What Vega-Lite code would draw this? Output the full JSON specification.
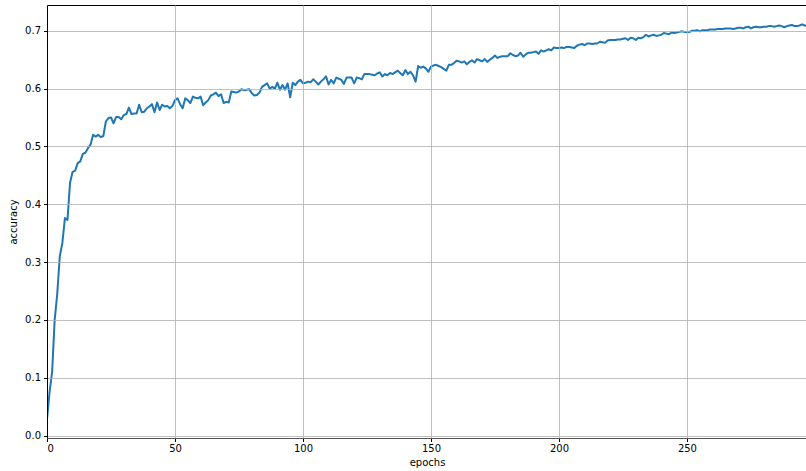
{
  "$schema": "https://vega.github.io/schema/vega-lite/v6.json",
  "width": 760,
  "height": 433,
  "autosize": {"type": "none"},
  "padding": {"left": 47, "top": 5, "right": 0, "bottom": 33},
  "background": "white",
  "config": {
    "view": {"stroke": "black", "strokeWidth": 1},
    "font": "DejaVu Sans",
    "axis": {
      "labelFont": "DejaVu Sans",
      "titleFont": "DejaVu Sans",
      "labelFontSize": 10,
      "titleFontSize": 10,
      "titleFontWeight": "normal",
      "labelColor": "black",
      "titleColor": "black",
      "tickColor": "black",
      "domainColor": "black",
      "tickSize": 3.5,
      "gridColor": "#b0b0b0",
      "gridWidth": 0.8,
      "gridOpacity": 1
    }
  },
  "data": {
    "values": [
      {"epoch": 0, "accuracy": 0.028},
      {"epoch": 1, "accuracy": 0.075},
      {"epoch": 2, "accuracy": 0.11},
      {"epoch": 3, "accuracy": 0.2},
      {"epoch": 4, "accuracy": 0.245},
      {"epoch": 5, "accuracy": 0.31},
      {"epoch": 6, "accuracy": 0.333},
      {"epoch": 7, "accuracy": 0.376},
      {"epoch": 8, "accuracy": 0.373},
      {"epoch": 9, "accuracy": 0.437},
      {"epoch": 10, "accuracy": 0.456},
      {"epoch": 11, "accuracy": 0.458},
      {"epoch": 12, "accuracy": 0.471},
      {"epoch": 13, "accuracy": 0.474},
      {"epoch": 14, "accuracy": 0.487},
      {"epoch": 15, "accuracy": 0.489},
      {"epoch": 16, "accuracy": 0.497},
      {"epoch": 17, "accuracy": 0.503},
      {"epoch": 18, "accuracy": 0.52},
      {"epoch": 19, "accuracy": 0.517},
      {"epoch": 20, "accuracy": 0.52},
      {"epoch": 21, "accuracy": 0.516},
      {"epoch": 22, "accuracy": 0.518},
      {"epoch": 23, "accuracy": 0.543},
      {"epoch": 24, "accuracy": 0.549},
      {"epoch": 25, "accuracy": 0.55},
      {"epoch": 26, "accuracy": 0.54},
      {"epoch": 27, "accuracy": 0.551},
      {"epoch": 28, "accuracy": 0.551},
      {"epoch": 29, "accuracy": 0.547},
      {"epoch": 30, "accuracy": 0.554},
      {"epoch": 31, "accuracy": 0.556},
      {"epoch": 32, "accuracy": 0.567},
      {"epoch": 33, "accuracy": 0.556},
      {"epoch": 34, "accuracy": 0.557},
      {"epoch": 35, "accuracy": 0.557},
      {"epoch": 36, "accuracy": 0.572},
      {"epoch": 37, "accuracy": 0.559},
      {"epoch": 38, "accuracy": 0.56},
      {"epoch": 39, "accuracy": 0.566},
      {"epoch": 40, "accuracy": 0.569},
      {"epoch": 41, "accuracy": 0.573},
      {"epoch": 42, "accuracy": 0.559},
      {"epoch": 43, "accuracy": 0.576},
      {"epoch": 44, "accuracy": 0.563},
      {"epoch": 45, "accuracy": 0.572},
      {"epoch": 46, "accuracy": 0.569},
      {"epoch": 47, "accuracy": 0.57},
      {"epoch": 48, "accuracy": 0.566},
      {"epoch": 49, "accuracy": 0.57},
      {"epoch": 50, "accuracy": 0.58},
      {"epoch": 51, "accuracy": 0.583},
      {"epoch": 52, "accuracy": 0.573},
      {"epoch": 53, "accuracy": 0.566},
      {"epoch": 54, "accuracy": 0.583},
      {"epoch": 55, "accuracy": 0.58},
      {"epoch": 56, "accuracy": 0.575},
      {"epoch": 57, "accuracy": 0.586},
      {"epoch": 58, "accuracy": 0.584},
      {"epoch": 59, "accuracy": 0.583},
      {"epoch": 60, "accuracy": 0.586},
      {"epoch": 61, "accuracy": 0.571},
      {"epoch": 62, "accuracy": 0.576},
      {"epoch": 63, "accuracy": 0.58},
      {"epoch": 64, "accuracy": 0.588},
      {"epoch": 65, "accuracy": 0.59},
      {"epoch": 66, "accuracy": 0.593},
      {"epoch": 67, "accuracy": 0.587},
      {"epoch": 68, "accuracy": 0.59},
      {"epoch": 69, "accuracy": 0.575},
      {"epoch": 70, "accuracy": 0.577},
      {"epoch": 71, "accuracy": 0.576},
      {"epoch": 72, "accuracy": 0.595},
      {"epoch": 73, "accuracy": 0.594},
      {"epoch": 74, "accuracy": 0.593},
      {"epoch": 75, "accuracy": 0.595},
      {"epoch": 76, "accuracy": 0.599},
      {"epoch": 77, "accuracy": 0.597},
      {"epoch": 78, "accuracy": 0.598},
      {"epoch": 79, "accuracy": 0.599},
      {"epoch": 80, "accuracy": 0.592},
      {"epoch": 81, "accuracy": 0.588},
      {"epoch": 82, "accuracy": 0.589},
      {"epoch": 83, "accuracy": 0.593},
      {"epoch": 84, "accuracy": 0.603},
      {"epoch": 85, "accuracy": 0.606},
      {"epoch": 86, "accuracy": 0.609},
      {"epoch": 87, "accuracy": 0.6},
      {"epoch": 88, "accuracy": 0.603},
      {"epoch": 89, "accuracy": 0.6},
      {"epoch": 90, "accuracy": 0.61},
      {"epoch": 91, "accuracy": 0.598},
      {"epoch": 92, "accuracy": 0.606},
      {"epoch": 93, "accuracy": 0.598},
      {"epoch": 94, "accuracy": 0.609},
      {"epoch": 95, "accuracy": 0.585},
      {"epoch": 96, "accuracy": 0.61},
      {"epoch": 97, "accuracy": 0.606},
      {"epoch": 98, "accuracy": 0.612},
      {"epoch": 99, "accuracy": 0.615},
      {"epoch": 100, "accuracy": 0.609},
      {"epoch": 101, "accuracy": 0.61},
      {"epoch": 102, "accuracy": 0.612},
      {"epoch": 103, "accuracy": 0.611},
      {"epoch": 104, "accuracy": 0.616},
      {"epoch": 105, "accuracy": 0.612},
      {"epoch": 106, "accuracy": 0.607},
      {"epoch": 107, "accuracy": 0.612},
      {"epoch": 108, "accuracy": 0.616},
      {"epoch": 109, "accuracy": 0.621},
      {"epoch": 110, "accuracy": 0.607},
      {"epoch": 111, "accuracy": 0.615},
      {"epoch": 112, "accuracy": 0.609},
      {"epoch": 113, "accuracy": 0.619},
      {"epoch": 114, "accuracy": 0.617},
      {"epoch": 115, "accuracy": 0.615},
      {"epoch": 116, "accuracy": 0.608},
      {"epoch": 117, "accuracy": 0.619},
      {"epoch": 118, "accuracy": 0.619},
      {"epoch": 119, "accuracy": 0.619},
      {"epoch": 120, "accuracy": 0.609},
      {"epoch": 121, "accuracy": 0.619},
      {"epoch": 122, "accuracy": 0.618},
      {"epoch": 123, "accuracy": 0.616},
      {"epoch": 124, "accuracy": 0.625},
      {"epoch": 125, "accuracy": 0.625},
      {"epoch": 126, "accuracy": 0.625},
      {"epoch": 127, "accuracy": 0.624},
      {"epoch": 128, "accuracy": 0.623},
      {"epoch": 129, "accuracy": 0.626},
      {"epoch": 130, "accuracy": 0.628},
      {"epoch": 131, "accuracy": 0.621},
      {"epoch": 132, "accuracy": 0.625},
      {"epoch": 133, "accuracy": 0.623},
      {"epoch": 134, "accuracy": 0.627},
      {"epoch": 135, "accuracy": 0.625},
      {"epoch": 136, "accuracy": 0.628},
      {"epoch": 137, "accuracy": 0.631},
      {"epoch": 138, "accuracy": 0.627},
      {"epoch": 139, "accuracy": 0.623},
      {"epoch": 140, "accuracy": 0.632},
      {"epoch": 141, "accuracy": 0.625},
      {"epoch": 142, "accuracy": 0.629},
      {"epoch": 143, "accuracy": 0.623},
      {"epoch": 144, "accuracy": 0.612},
      {"epoch": 145, "accuracy": 0.639},
      {"epoch": 146, "accuracy": 0.636},
      {"epoch": 147, "accuracy": 0.638},
      {"epoch": 148, "accuracy": 0.635},
      {"epoch": 149, "accuracy": 0.629},
      {"epoch": 150, "accuracy": 0.638},
      {"epoch": 151, "accuracy": 0.64},
      {"epoch": 152, "accuracy": 0.641},
      {"epoch": 153, "accuracy": 0.639},
      {"epoch": 154, "accuracy": 0.637},
      {"epoch": 155, "accuracy": 0.634},
      {"epoch": 156, "accuracy": 0.631},
      {"epoch": 157, "accuracy": 0.641},
      {"epoch": 158, "accuracy": 0.641},
      {"epoch": 159, "accuracy": 0.644},
      {"epoch": 160, "accuracy": 0.648},
      {"epoch": 161, "accuracy": 0.647},
      {"epoch": 162, "accuracy": 0.645},
      {"epoch": 163, "accuracy": 0.647},
      {"epoch": 164, "accuracy": 0.642},
      {"epoch": 165, "accuracy": 0.646},
      {"epoch": 166, "accuracy": 0.649},
      {"epoch": 167, "accuracy": 0.645},
      {"epoch": 168, "accuracy": 0.651},
      {"epoch": 169, "accuracy": 0.649},
      {"epoch": 170, "accuracy": 0.647},
      {"epoch": 171, "accuracy": 0.651},
      {"epoch": 172, "accuracy": 0.646},
      {"epoch": 173, "accuracy": 0.65},
      {"epoch": 174, "accuracy": 0.653},
      {"epoch": 175, "accuracy": 0.657},
      {"epoch": 176, "accuracy": 0.653},
      {"epoch": 177, "accuracy": 0.655},
      {"epoch": 178, "accuracy": 0.656},
      {"epoch": 179, "accuracy": 0.656},
      {"epoch": 180, "accuracy": 0.656},
      {"epoch": 181, "accuracy": 0.661},
      {"epoch": 182, "accuracy": 0.658},
      {"epoch": 183, "accuracy": 0.656},
      {"epoch": 184, "accuracy": 0.657},
      {"epoch": 185, "accuracy": 0.662},
      {"epoch": 186, "accuracy": 0.655},
      {"epoch": 187, "accuracy": 0.659},
      {"epoch": 188, "accuracy": 0.662},
      {"epoch": 189, "accuracy": 0.662},
      {"epoch": 190, "accuracy": 0.663},
      {"epoch": 191, "accuracy": 0.664},
      {"epoch": 192, "accuracy": 0.66},
      {"epoch": 193, "accuracy": 0.666},
      {"epoch": 194, "accuracy": 0.664},
      {"epoch": 195, "accuracy": 0.666},
      {"epoch": 196, "accuracy": 0.668},
      {"epoch": 197, "accuracy": 0.666},
      {"epoch": 198, "accuracy": 0.671},
      {"epoch": 199, "accuracy": 0.67},
      {"epoch": 200, "accuracy": 0.67},
      {"epoch": 201, "accuracy": 0.671},
      {"epoch": 202, "accuracy": 0.67},
      {"epoch": 203, "accuracy": 0.672},
      {"epoch": 204, "accuracy": 0.672},
      {"epoch": 205, "accuracy": 0.671},
      {"epoch": 206, "accuracy": 0.67},
      {"epoch": 207, "accuracy": 0.674},
      {"epoch": 208, "accuracy": 0.676},
      {"epoch": 209, "accuracy": 0.677},
      {"epoch": 210, "accuracy": 0.675},
      {"epoch": 211, "accuracy": 0.678},
      {"epoch": 212, "accuracy": 0.678},
      {"epoch": 213, "accuracy": 0.677},
      {"epoch": 214, "accuracy": 0.678},
      {"epoch": 215, "accuracy": 0.678},
      {"epoch": 216, "accuracy": 0.681},
      {"epoch": 217, "accuracy": 0.68},
      {"epoch": 218, "accuracy": 0.679},
      {"epoch": 219, "accuracy": 0.683},
      {"epoch": 220, "accuracy": 0.684},
      {"epoch": 221, "accuracy": 0.684},
      {"epoch": 222, "accuracy": 0.684},
      {"epoch": 223, "accuracy": 0.685},
      {"epoch": 224, "accuracy": 0.685},
      {"epoch": 225, "accuracy": 0.686},
      {"epoch": 226, "accuracy": 0.687},
      {"epoch": 227, "accuracy": 0.684},
      {"epoch": 228, "accuracy": 0.688},
      {"epoch": 229, "accuracy": 0.687},
      {"epoch": 230, "accuracy": 0.684},
      {"epoch": 231, "accuracy": 0.688},
      {"epoch": 232, "accuracy": 0.687},
      {"epoch": 233, "accuracy": 0.689},
      {"epoch": 234, "accuracy": 0.693},
      {"epoch": 235, "accuracy": 0.69},
      {"epoch": 236, "accuracy": 0.692},
      {"epoch": 237, "accuracy": 0.693},
      {"epoch": 238, "accuracy": 0.691},
      {"epoch": 239, "accuracy": 0.692},
      {"epoch": 240, "accuracy": 0.693},
      {"epoch": 241, "accuracy": 0.696},
      {"epoch": 242, "accuracy": 0.695},
      {"epoch": 243, "accuracy": 0.694},
      {"epoch": 244, "accuracy": 0.697},
      {"epoch": 245, "accuracy": 0.696},
      {"epoch": 246, "accuracy": 0.697},
      {"epoch": 247, "accuracy": 0.698},
      {"epoch": 248, "accuracy": 0.699},
      {"epoch": 249, "accuracy": 0.698},
      {"epoch": 250, "accuracy": 0.698},
      {"epoch": 251, "accuracy": 0.698},
      {"epoch": 252, "accuracy": 0.7},
      {"epoch": 253, "accuracy": 0.7},
      {"epoch": 254, "accuracy": 0.701},
      {"epoch": 255, "accuracy": 0.699},
      {"epoch": 256, "accuracy": 0.701},
      {"epoch": 257, "accuracy": 0.701},
      {"epoch": 258, "accuracy": 0.701},
      {"epoch": 259, "accuracy": 0.702},
      {"epoch": 260, "accuracy": 0.702},
      {"epoch": 261, "accuracy": 0.702},
      {"epoch": 262, "accuracy": 0.703},
      {"epoch": 263, "accuracy": 0.703},
      {"epoch": 264, "accuracy": 0.703},
      {"epoch": 265, "accuracy": 0.704},
      {"epoch": 266, "accuracy": 0.704},
      {"epoch": 267, "accuracy": 0.704},
      {"epoch": 268, "accuracy": 0.703},
      {"epoch": 269, "accuracy": 0.704},
      {"epoch": 270, "accuracy": 0.705},
      {"epoch": 271, "accuracy": 0.705},
      {"epoch": 272, "accuracy": 0.704},
      {"epoch": 273, "accuracy": 0.706},
      {"epoch": 274, "accuracy": 0.707},
      {"epoch": 275, "accuracy": 0.704},
      {"epoch": 276, "accuracy": 0.706},
      {"epoch": 277, "accuracy": 0.707},
      {"epoch": 278, "accuracy": 0.706},
      {"epoch": 279, "accuracy": 0.706},
      {"epoch": 280, "accuracy": 0.707},
      {"epoch": 281, "accuracy": 0.707},
      {"epoch": 282, "accuracy": 0.708},
      {"epoch": 283, "accuracy": 0.708},
      {"epoch": 284, "accuracy": 0.707},
      {"epoch": 285, "accuracy": 0.708},
      {"epoch": 286, "accuracy": 0.709},
      {"epoch": 287, "accuracy": 0.708},
      {"epoch": 288, "accuracy": 0.706},
      {"epoch": 289, "accuracy": 0.708},
      {"epoch": 290, "accuracy": 0.709},
      {"epoch": 291, "accuracy": 0.71},
      {"epoch": 292, "accuracy": 0.708},
      {"epoch": 293, "accuracy": 0.708},
      {"epoch": 294, "accuracy": 0.709},
      {"epoch": 295, "accuracy": 0.711},
      {"epoch": 296, "accuracy": 0.709},
      {"epoch": 297, "accuracy": 0.708}
    ]
  },
  "mark": {"type": "line", "color": "#1f77b4", "strokeWidth": 2, "clip": true, "strokeJoin": "round", "strokeCap": "square"},
  "encoding": {
    "x": {
      "field": "epoch",
      "type": "quantitative",
      "scale": {"domain": [0, 296.9], "nice": false, "zero": false},
      "axis": {
        "title": "epochs",
        "values": [0, 50, 100, 150, 200, 250],
        "format": "d",
        "labelPadding": 2,
        "titlePadding": 4,
        "domainColor": "#555555",
        "domainWidth": 1.2,
        "zindex": 1
      }
    },
    "y": {
      "field": "accuracy",
      "type": "quantitative",
      "scale": {"domain": [-0.0043, 0.7445], "nice": false, "zero": false},
      "axis": {
        "title": "accuracy",
        "values": [0, 0.1, 0.2, 0.3, 0.4, 0.5, 0.6, 0.7],
        "format": ".1f",
        "labelPadding": 3,
        "titlePadding": 6,
        "zindex": 1
      }
    }
  }
}
